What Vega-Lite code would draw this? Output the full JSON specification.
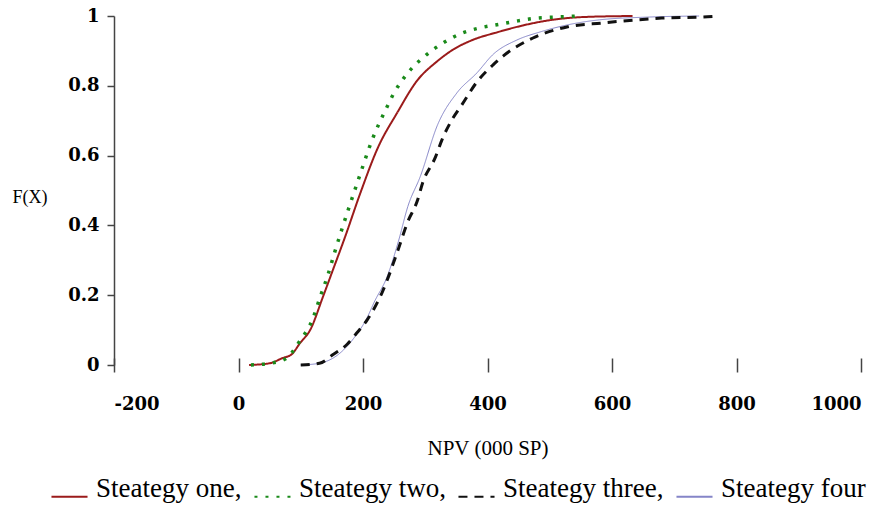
{
  "$schema": "https://vega.github.io/schema/vega-lite/v6.json",
  "width": 747,
  "height": 349,
  "autosize": "none",
  "padding": {"left": 114, "top": 16, "right": 22, "bottom": 141},
  "background": "white",
  "config": {"view": {"stroke": null}, "font": "Liberation Serif"},
  "datasets": {
    "cdf": [
      {"strategy": "Steategy one,", "npv": 17, "F": 0.0},
      {"strategy": "Steategy one,", "npv": 50, "F": 0.005},
      {"strategy": "Steategy one,", "npv": 71, "F": 0.02},
      {"strategy": "Steategy one,", "npv": 85, "F": 0.03},
      {"strategy": "Steategy one,", "npv": 99, "F": 0.063},
      {"strategy": "Steategy one,", "npv": 115, "F": 0.10},
      {"strategy": "Steategy one,", "npv": 136, "F": 0.197},
      {"strategy": "Steategy one,", "npv": 152, "F": 0.274},
      {"strategy": "Steategy one,", "npv": 171, "F": 0.366},
      {"strategy": "Steategy one,", "npv": 196, "F": 0.494},
      {"strategy": "Steategy one,", "npv": 224, "F": 0.623},
      {"strategy": "Steategy one,", "npv": 255, "F": 0.723},
      {"strategy": "Steategy one,", "npv": 287, "F": 0.815},
      {"strategy": "Steategy one,", "npv": 319, "F": 0.87},
      {"strategy": "Steategy one,", "npv": 345, "F": 0.904},
      {"strategy": "Steategy one,", "npv": 377, "F": 0.932},
      {"strategy": "Steategy one,", "npv": 415, "F": 0.953},
      {"strategy": "Steategy one,", "npv": 457, "F": 0.973},
      {"strategy": "Steategy one,", "npv": 500, "F": 0.988},
      {"strategy": "Steategy one,", "npv": 553, "F": 0.997},
      {"strategy": "Steategy one,", "npv": 633, "F": 1.0},
      {"strategy": "Steategy two,", "npv": 20, "F": 0.0},
      {"strategy": "Steategy two,", "npv": 50, "F": 0.005},
      {"strategy": "Steategy two,", "npv": 75, "F": 0.017},
      {"strategy": "Steategy two,", "npv": 99, "F": 0.07},
      {"strategy": "Steategy two,", "npv": 119, "F": 0.131},
      {"strategy": "Steategy two,", "npv": 131, "F": 0.194},
      {"strategy": "Steategy two,", "npv": 144, "F": 0.26},
      {"strategy": "Steategy two,", "npv": 155, "F": 0.326},
      {"strategy": "Steategy two,", "npv": 167, "F": 0.394},
      {"strategy": "Steategy two,", "npv": 178, "F": 0.454},
      {"strategy": "Steategy two,", "npv": 191, "F": 0.523},
      {"strategy": "Steategy two,", "npv": 216, "F": 0.651},
      {"strategy": "Steategy two,", "npv": 236, "F": 0.73},
      {"strategy": "Steategy two,", "npv": 250, "F": 0.78},
      {"strategy": "Steategy two,", "npv": 272, "F": 0.837},
      {"strategy": "Steategy two,", "npv": 298, "F": 0.883},
      {"strategy": "Steategy two,", "npv": 329, "F": 0.923},
      {"strategy": "Steategy two,", "npv": 359, "F": 0.951},
      {"strategy": "Steategy two,", "npv": 388, "F": 0.966},
      {"strategy": "Steategy two,", "npv": 418, "F": 0.976},
      {"strategy": "Steategy two,", "npv": 449, "F": 0.986},
      {"strategy": "Steategy two,", "npv": 479, "F": 0.994},
      {"strategy": "Steategy two,", "npv": 511, "F": 0.997},
      {"strategy": "Steategy two,", "npv": 545, "F": 1.0},
      {"strategy": "Steategy three,", "npv": 100, "F": 0.0},
      {"strategy": "Steategy three,", "npv": 130, "F": 0.005},
      {"strategy": "Steategy three,", "npv": 152, "F": 0.03},
      {"strategy": "Steategy three,", "npv": 175, "F": 0.06},
      {"strategy": "Steategy three,", "npv": 191, "F": 0.094},
      {"strategy": "Steategy three,", "npv": 207, "F": 0.13},
      {"strategy": "Steategy three,", "npv": 231, "F": 0.209},
      {"strategy": "Steategy three,", "npv": 255, "F": 0.323},
      {"strategy": "Steategy three,", "npv": 272, "F": 0.411},
      {"strategy": "Steategy three,", "npv": 287, "F": 0.469},
      {"strategy": "Steategy three,", "npv": 296, "F": 0.523},
      {"strategy": "Steategy three,", "npv": 316, "F": 0.594},
      {"strategy": "Steategy three,", "npv": 327, "F": 0.646},
      {"strategy": "Steategy three,", "npv": 343, "F": 0.703},
      {"strategy": "Steategy three,", "npv": 359, "F": 0.746},
      {"strategy": "Steategy three,", "npv": 383, "F": 0.811},
      {"strategy": "Steategy three,", "npv": 409, "F": 0.86},
      {"strategy": "Steategy three,", "npv": 425, "F": 0.885},
      {"strategy": "Steategy three,", "npv": 473, "F": 0.937},
      {"strategy": "Steategy three,", "npv": 529, "F": 0.969},
      {"strategy": "Steategy three,", "npv": 585, "F": 0.98},
      {"strategy": "Steategy three,", "npv": 640, "F": 0.989},
      {"strategy": "Steategy three,", "npv": 680, "F": 0.994},
      {"strategy": "Steategy three,", "npv": 745, "F": 0.997},
      {"strategy": "Steategy three,", "npv": 770, "F": 1.0},
      {"strategy": "Steategy four", "npv": 100, "F": 0.0},
      {"strategy": "Steategy four", "npv": 130, "F": 0.005},
      {"strategy": "Steategy four", "npv": 163, "F": 0.034},
      {"strategy": "Steategy four", "npv": 184, "F": 0.074},
      {"strategy": "Steategy four", "npv": 207, "F": 0.137},
      {"strategy": "Steategy four", "npv": 218, "F": 0.18},
      {"strategy": "Steategy four", "npv": 239, "F": 0.254},
      {"strategy": "Steategy four", "npv": 257, "F": 0.355},
      {"strategy": "Steategy four", "npv": 272, "F": 0.454},
      {"strategy": "Steategy four", "npv": 292, "F": 0.54},
      {"strategy": "Steategy four", "npv": 320, "F": 0.689},
      {"strategy": "Steategy four", "npv": 351, "F": 0.78},
      {"strategy": "Steategy four", "npv": 383, "F": 0.837},
      {"strategy": "Steategy four", "npv": 409, "F": 0.89},
      {"strategy": "Steategy four", "npv": 447, "F": 0.931},
      {"strategy": "Steategy four", "npv": 484, "F": 0.954},
      {"strategy": "Steategy four", "npv": 527, "F": 0.974},
      {"strategy": "Steategy four", "npv": 580, "F": 0.989},
      {"strategy": "Steategy four", "npv": 660, "F": 0.997},
      {"strategy": "Steategy four", "npv": 740, "F": 1.0}
    ]
  },
  "encoding": {
    "x": {
      "field": "npv",
      "type": "quantitative",
      "scale": {"domain": [-200, 1000], "nice": false, "zero": false},
      "axis": {
        "values": [-200, 0, 200, 400, 600, 800, 1000],
        "labelExpr": "'' + datum.value",
        "title": "NPV (000 SP)",
        "domain": false,
        "grid": false,
        "offset": -7,
        "tickSize": 14,
        "tickColor": "#444444",
        "tickWidth": 1.5,
        "labelFont": "DejaVu Serif",
        "labelFontSize": 18,
        "labelFontWeight": "bold",
        "labelColor": "black",
        "labelPadding": 23,
        "titleFont": "Liberation Serif",
        "titleFontSize": 21,
        "titleFontWeight": "normal",
        "titleColor": "black",
        "titlePadding": 24
      }
    },
    "y": {
      "field": "F",
      "type": "quantitative",
      "scale": {"domain": [0, 1], "nice": false},
      "axis": {
        "values": [0, 0.2, 0.4, 0.6, 0.8, 1],
        "format": "~g",
        "title": "F(X)",
        "grid": false,
        "domainColor": "#444444",
        "domainWidth": 1.5,
        "tickSize": 7,
        "tickColor": "#444444",
        "tickWidth": 1.5,
        "labelFont": "DejaVu Serif",
        "labelFontSize": 18,
        "labelFontWeight": "bold",
        "labelColor": "black",
        "labelPadding": 8,
        "titleFont": "Liberation Serif",
        "titleFontSize": 18,
        "titleFontWeight": "normal",
        "titleColor": "black",
        "titleAngle": 0,
        "titleAlign": "left",
        "titleBaseline": "middle",
        "titleX": -102,
        "titleY": 181
      }
    },
    "color": {
      "field": "strategy",
      "type": "nominal",
      "sort": null,
      "scale": {
        "domain": ["Steategy one,", "Steategy two,", "Steategy three,", "Steategy four"],
        "range": ["#9b1b1b", "#1a8a1a", "#111111", "#8585c8"]
      },
      "legend": {
        "orient": "none",
        "legendX": -64,
        "legendY": 461,
        "direction": "horizontal",
        "title": null,
        "symbolType": "stroke",
        "symbolSize": 1300,
        "symbolStrokeWidth": 2,
        "labelFont": "Liberation Serif",
        "labelFontSize": 27,
        "labelColor": "black",
        "labelBaseline": "alphabetic",
        "labelOffset": 7,
        "columnPadding": 8,
        "labelLimit": 400
      }
    },
    "strokeDash": {
      "field": "strategy",
      "type": "nominal",
      "sort": null,
      "scale": {
        "domain": ["Steategy one,", "Steategy two,", "Steategy three,", "Steategy four"],
        "range": [[1, 0], [3, 8], [9, 7], [1, 0]]
      }
    }
  },
  "layer": [
    {
      "mark": {"type": "rule", "color": "#9a9a9a", "strokeWidth": 1.5},
      "encoding": {"x": null, "color": null, "strokeDash": null, "y": {"datum": 1, "type": "quantitative"}}
    },
    {
      "mark": {"type": "rule", "color": "#444444", "strokeWidth": 1.5},
      "encoding": {"x": null, "color": null, "strokeDash": null, "y": {"datum": 0, "type": "quantitative"}}
    },
    {
      "data": {"name": "cdf"},
      "transform": [{"filter": "datum.strategy === 'Steategy four'"}],
      "mark": {"type": "line", "interpolate": "monotone", "strokeWidth": 1}
    },
    {
      "data": {"name": "cdf"},
      "transform": [{"filter": "datum.strategy === 'Steategy three,'"}],
      "mark": {"type": "line", "interpolate": "monotone", "strokeWidth": 3}
    },
    {
      "data": {"name": "cdf"},
      "transform": [{"filter": "datum.strategy === 'Steategy one,'"}],
      "mark": {"type": "line", "interpolate": "monotone", "strokeWidth": 2}
    },
    {
      "data": {"name": "cdf"},
      "transform": [{"filter": "datum.strategy === 'Steategy two,'"}],
      "mark": {"type": "line", "interpolate": "monotone", "strokeWidth": 3.5}
    }
  ]
}
